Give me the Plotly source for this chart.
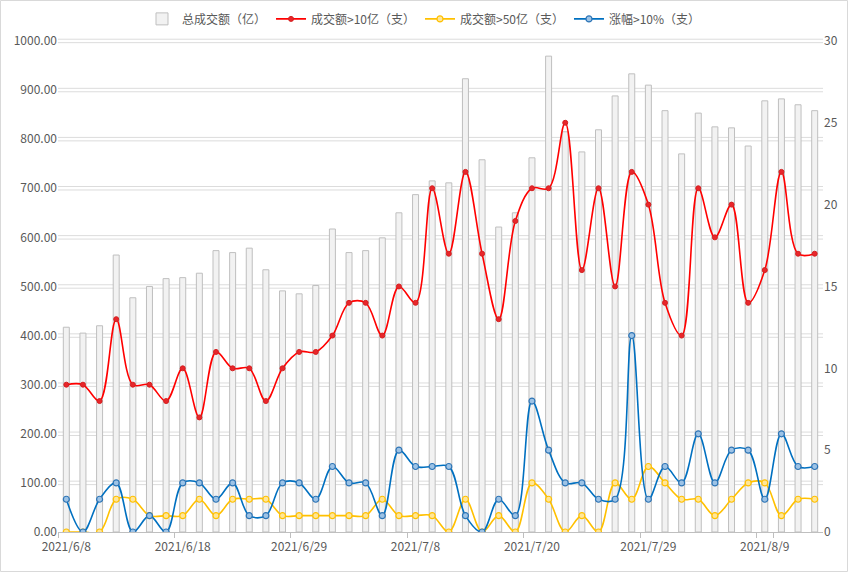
import plotly.graph_objects as go

dates = ["2021/6/8", "2021/6/9", "2021/6/10", "2021/6/11", "2021/6/15", "2021/6/16", "2021/6/17",
         "2021/6/18", "2021/6/21", "2021/6/22", "2021/6/23", "2021/6/24", "2021/6/25", "2021/6/28",
         "2021/6/29", "2021/6/30", "2021/7/1", "2021/7/2", "2021/7/5", "2021/7/6", "2021/7/7",
         "2021/7/8", "2021/7/12", "2021/7/13", "2021/7/14", "2021/7/15", "2021/7/16", "2021/7/19",
         "2021/7/20", "2021/7/21", "2021/7/22", "2021/7/23", "2021/7/26", "2021/7/27", "2021/7/28",
         "2021/7/29", "2021/7/30", "2021/8/2", "2021/8/3", "2021/8/4", "2021/8/5", "2021/8/6",
         "2021/8/9", "2021/8/10", "2021/8/11", "2021/8/12"]

total_volume = [417, 405, 420, 564, 477, 500, 516, 518, 527, 573, 569, 578, 534, 491, 485, 502,
                617, 569, 573, 599, 650, 687, 715, 711, 923, 758, 621, 650, 762, 969, 815, 774,
                819, 888, 933, 910, 858, 770, 853, 825, 823, 786, 878, 882, 870, 858]

over_10 = [9, 9, 8, 13, 9, 9, 8, 10, 7, 11, 10, 10, 8, 10, 11, 11, 12, 14, 14, 12, 15, 14,
           21, 17, 22, 17, 13, 19, 21, 21, 25, 16, 21, 15, 22, 20, 14, 12, 21, 18, 20, 14,
           16, 22, 17, 17]

over_50 = [0, 0, 0, 2, 2, 1, 1, 1, 2, 1, 2, 2, 2, 1, 1, 1, 1, 1, 1, 2, 1, 1,
           1, 0, 2, 0, 1, 0, 3, 2, 0, 1, 0, 3, 2, 4, 3, 2, 2, 1, 2, 3, 3, 1, 2, 2]

rise_10 = [2, 0, 2, 3, 0, 1, 0, 3, 3, 2, 3, 1, 1, 3, 3, 2, 4, 3, 3, 1, 5, 4,
           4, 4, 1, 0, 2, 1, 8, 5, 3, 3, 2, 2, 12, 2, 4, 3, 6, 3, 5, 5, 2, 6, 4, 4]

left_ticks = [0, 100, 200, 300, 400, 500, 600, 700, 800, 900, 1000]
grid_ticks = left_ticks[1:]
right_ticks = [0, 5, 10, 15, 20, 25, 30]
label_dates = dates[::7]

names = ["总成交额（亿）", "成交额>10亿（支）", "成交额>50亿（支）", "涨幅>10%（支）"]

FONT = "Noto Sans CJK SC, Noto Sans, sans-serif"
TXT = "#595959"
GRID = "#dcdcdc"

fig = go.Figure()
fig.add_trace(go.Bar(x=dates, y=total_volume, name=names[0],
                     marker=dict(color="#f2f2f2", line=dict(color="#bfbfbf", width=1))))
fig.add_trace(go.Scatter(x=dates, y=over_10, name=names[1], yaxis="y2", mode="lines+markers",
                         line=dict(color="#ff0000", width=1.6, shape="spline", smoothing=1),
                         marker=dict(size=5, color="#e8262b", line=dict(color="#d42020", width=1))))
fig.add_trace(go.Scatter(x=dates, y=over_50, name=names[2], yaxis="y2", mode="lines+markers",
                         line=dict(color="#ffc000", width=1.6, shape="spline", smoothing=1),
                         marker=dict(size=6, color="#ffe699", line=dict(color="#ffc000", width=1.2))))
fig.add_trace(go.Scatter(x=dates, y=rise_10, name=names[3], yaxis="y2", mode="lines+markers",
                         line=dict(color="#0070c0", width=1.6, shape="spline", smoothing=1),
                         marker=dict(size=6, color="#9dc3e6", line=dict(color="#2e75b6", width=1.2))))

top = 1008
# double-line gridlines (Excel "double" style)
shapes = []
for v in grid_ticks:
    for off in (-3.5, 3.5):
        shapes.append(dict(type="line", xref="paper", yref="y", x0=0, x1=1, y0=v + off, y1=v + off,
                           line=dict(color=GRID, width=1), layer="below"))
shapes.append(dict(type="rect", xref="paper", yref="paper",
                   x0=-57.5 / 765, x1=789.5 / 765, y0=-39.5 / 495, y1=531.5 / 495,
                   line=dict(color="#d9d9d9", width=1), fillcolor="rgba(0,0,0,0)", layer="below"))

fig.update_layout(
    width=848, height=572,
    margin=dict(l=58, r=25, t=37, b=40),
    paper_bgcolor="white", plot_bgcolor="white",
    font=dict(family=FONT, size=12, color=TXT),
    bargap=0.64,
    showlegend=True,
    legend=dict(orientation="h", xref="container", yref="container", x=0.5, y=0.967,
                xanchor="center", yanchor="middle", font=dict(size=12, color=TXT),
                bgcolor="rgba(0,0,0,0)", itemwidth=30, tracegroupgap=0),
    xaxis=dict(type="category", range=[-0.5, len(dates) - 0.5], tickvals=label_dates,
               ticktext=label_dates, tickson="boundaries", ticks="outside", ticklen=5,
               tickangle=0, automargin=False, ticklabelstandoff=4,
               tickcolor="#bfbfbf", showline=True, linecolor="#bfbfbf", linewidth=1,
               showgrid=False, tickfont=dict(size=12, color=TXT)),
    yaxis=dict(range=[0, top], tickvals=left_ticks, tickformat=".2f", showgrid=False,
               zeroline=False, ticks="", automargin=False, tickfont=dict(size=12, color=TXT)),
    yaxis2=dict(range=[0, top * 30 / 1000], tickvals=right_ticks, overlaying="y", side="right",
                showgrid=False, zeroline=False, ticks="", automargin=False,
                tickfont=dict(size=12, color=TXT)),
    shapes=shapes,
)

fig.write_html("out.html")
